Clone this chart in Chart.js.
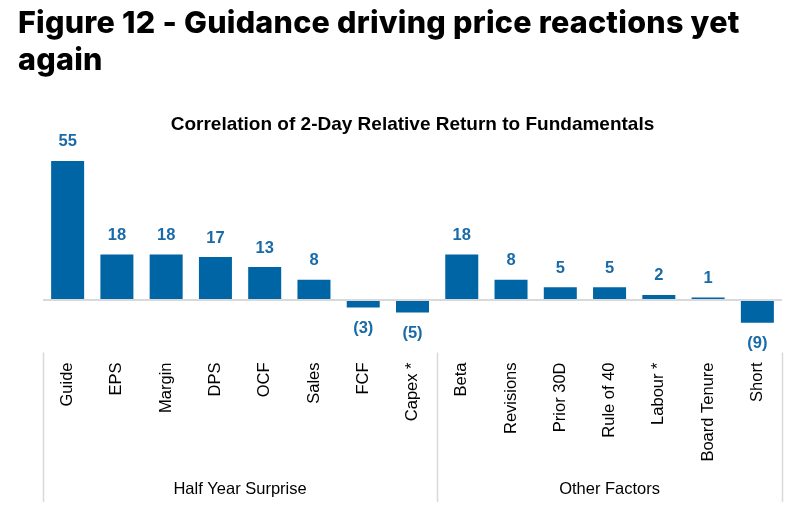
<!DOCTYPE html>
<html>
<head>
<meta charset="utf-8">
<script src="https://cdn.jsdelivr.net/npm/chart.js@4.4.1/dist/chart.umd.min.js"></script>
<style>
  html, body { margin: 0; padding: 0; background: #fff; }
  #wrap { position: relative; width: 799px; height: 514px; overflow: hidden; }
  #title { position: absolute; left: 18px; top: 3px; width: 775px; margin: 0;
           font-family: "Inter", "DejaVu Sans", sans-serif; font-weight: 800;
           font-size: 30.5px; line-height: 37px; color: #000; letter-spacing: 0.25px; }
  canvas { position: absolute; left: 0; top: 0; }
</style>
</head>
<body>
<div id="wrap">
  <canvas id="c" width="799" height="514"></canvas>
  <h1 id="title">Figure 12 - Guidance driving price reactions yet again</h1>
</div>
<script>
const categories = ["Guide", "EPS", "Margin", "DPS", "OCF", "Sales", "FCF", "Capex *",
                    "Beta", "Revisions", "Prior 30D", "Rule of 40", "Labour *", "Board Tenure", "Short"];
const values = [55, 18, 18, 17, 13, 8, -3, -5, 18, 8, 5, 5, 2, 1, -9];
const groupNames = ["Half Year Surprise", "Other Factors"];
const groupSizes = [8, 7];
const chartTitle = "Correlation of 2-Day Relative Return to Fundamentals";

const BAR = "#0065a5";
const LABEL = "#1a6aa8";

const fmt = v => v < 0 ? "(" + Math.abs(v) + ")" : String(v);

const valueLabels = {
  id: "valueLabels",
  afterDatasetsDraw(chart) {
    const ctx = chart.ctx;
    const meta = chart.getDatasetMeta(0);
    ctx.save();
    ctx.font = "bold 16.5px 'Liberation Sans', Arial, sans-serif";
    ctx.fillStyle = LABEL;
    ctx.textAlign = "center";
    ctx.textBaseline = "middle";
    meta.data.forEach((bar, i) => {
      const v = values[i];
      const y = v >= 0 ? bar.y - 19 : bar.y + 21;
      ctx.fillText(fmt(v), bar.x, y);
    });
    ctx.restore();
  }
};

const groupAxis = {
  id: "groupAxis",
  afterDraw(chart) {
    const ctx = chart.ctx;
    const xs = chart.scales.x;
    const area = chart.chartArea;
    const half = (xs.getPixelForValue(1) - xs.getPixelForValue(0)) / 2;
    ctx.save();
    ctx.strokeStyle = "#d9d9d9";
    ctx.lineWidth = 1.5;
    let idx = 0;
    const bounds = [idx];
    groupSizes.forEach(n => { idx += n; bounds.push(idx); });
    bounds.forEach(b => {
      const x = Math.round(xs.getPixelForValue(b) - half) + 0.5;
      ctx.beginPath();
      ctx.moveTo(x, area.bottom + 2);
      ctx.lineTo(x, 502);
      ctx.stroke();
    });
    ctx.font = "16.5px 'Liberation Sans', Arial, sans-serif";
    ctx.fillStyle = "#000";
    ctx.textAlign = "center";
    ctx.textBaseline = "middle";
    groupNames.forEach((g, gi) => {
      const x0 = xs.getPixelForValue(bounds[gi]) - half;
      const x1 = xs.getPixelForValue(bounds[gi + 1]) - half;
      ctx.fillText(g, (x0 + x1) / 2, 489);
    });
    ctx.restore();
  }
};

new Chart(document.getElementById("c"), {
  type: "bar",
  data: {
    labels: categories,
    datasets: [{
      data: values,
      backgroundColor: BAR,
      borderWidth: 0,
      categoryPercentage: 1,
      barPercentage: 0.67
    }]
  },
  options: {
    responsive: false,
    animation: false,
    layout: { padding: { left: 43, right: 17, top: 113, bottom: 0 } },
    plugins: {
      legend: { display: false },
      tooltip: { enabled: false },
      title: {
        display: true,
        text: chartTitle,
        color: "#000",
        font: { family: "'Liberation Sans', Arial, sans-serif", size: 19, weight: "bold", lineHeight: 1.2 },
        padding: { top: 0, bottom: 12.5 }
      }
    },
    scales: {
      x: {
        grid: { display: false, drawTicks: false },
        border: { display: false },
        ticks: {
          color: "#000",
          font: { family: "'Liberation Sans', Arial, sans-serif", size: 16.5 },
          minRotation: 90, maxRotation: 90,
          padding: 12,
          autoSkip: false
        },
        afterFit(s) { s.height = 163.5; }
      },
      y: {
        display: true,
        min: -20, max: 60,
        ticks: { display: false },
        border: { display: false },
        grid: {
          drawTicks: false,
          color: ctx => ctx.tick && ctx.tick.value === 0 ? "#d9d9d9" : "rgba(0,0,0,0)",
          lineWidth: 2
        },
        afterFit(s) { s.width = 0; }
      }
    }
  },
  plugins: [valueLabels, groupAxis]
});
</script>
</body>
</html>
